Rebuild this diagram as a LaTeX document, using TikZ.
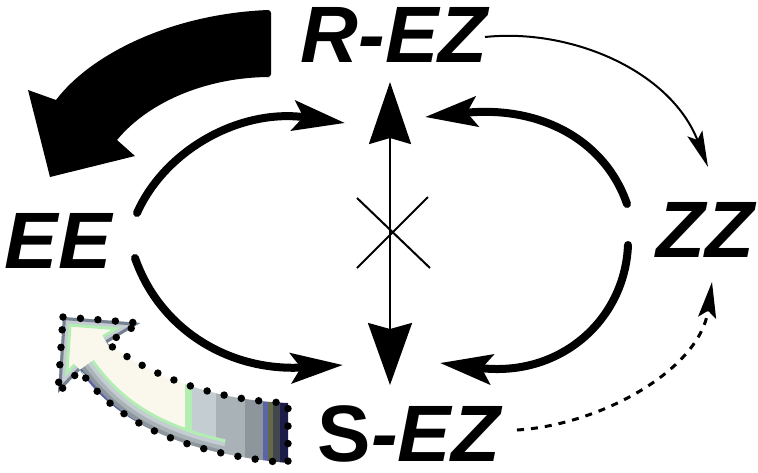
\documentclass[tikz,border=0pt]{standalone}
\usepackage{fontspec}
\setmainfont{Liberation Sans}
\usetikzlibrary{arrows.meta}
\definecolor{gcream}{RGB}{250,247,236}
\definecolor{ggreen}{RGB}{178,238,178}
\definecolor{gg1}{RGB}{196,206,210}
\definecolor{gg2}{RGB}{168,178,183}
\definecolor{gg3}{RGB}{140,150,156}
\definecolor{gblue}{RGB}{92,100,165}
\definecolor{golive}{RGB}{98,106,72}
\definecolor{gdark}{RGB}{66,70,78}
\definecolor{gnavy}{RGB}{28,28,72}
\definecolor{gedge}{RGB}{118,128,145}
\tikzset{
  lab/.style={font=\fontsize{80}{80}\selectfont\bfseries\itshape, inner sep=0pt, anchor=base, text depth=0pt},
  thick arc/.style={line width=8pt, line cap=round, -{Stealth[length=52pt, width=30pt, inset=10pt]}},
  thin arc/.style={line width=2pt, -{Stealth[length=36pt, width=16pt, inset=7pt]}},
  dash arc/.style={line width=3pt, dash pattern=on 7pt off 7pt, -{Stealth[length=36pt, width=18pt, inset=7pt]}},
  mid arrow/.style={line width=2.5pt, {Stealth[length=62pt, width=42pt, inset=6pt]}-{Stealth[length=62pt, width=44pt, inset=6pt]}},
  cross line/.style={line width=2pt},
  dotted rim/.style={line width=7.5pt, line cap=round, dash pattern=on 0pt off 17.5pt},
  band/.style={line join=miter, line cap=butt}
}
\begin{document}
\begin{tikzpicture}[x=1pt, y=-1pt]
\useasboundingbox (0,0) rectangle (758,472);

% labels
\node[lab] (REZ) at (394,62) {R-EZ};
\node[lab] (EE) at (58,268) {EE};
\node[lab] (ZZ) at (705,257) {ZZ};
\node[lab] (SEZ) at (409,461) {{\upshape S}-EZ};

% big black arrow
\fill[black] (270,77) .. controls (210,77) and (150,100) .. (117,140)
  -- (135,156) -- (50,177) -- (28,90) -- (56,100)
  .. controls (90,55) and (170,14) .. (268,10)
  [rounded corners=3pt] -- (271,10) -- (271,77) [sharp corners] -- cycle;

% gradient arrow
\def\gradpath{(63,317) -- (140,323) -- (107,343)
  .. controls (150,375) and (210,400) .. (288,403)
  -- (288,463)
  .. controls (200,455) and (120,430) .. (80,370)
  -- (58,393) -- cycle}
\def\headpath{(80,370) -- (58,393) -- (63,317) -- (140,323) -- (107,343)}
\def\lowpath{(80,370) .. controls (110,412) and (150,440) .. (222,456)}
\begin{scope}
  \clip \gradpath;
  \fill[gcream] (50,300) rectangle (185,470);
  \fill[ggreen] (185,300) rectangle (192,470);
  \fill[gg1] (192,300) rectangle (216,470);
  \fill[gg2] (216,300) rectangle (245,470);
  \fill[gg3] (245,300) rectangle (263,470);
  \fill[gblue] (263,300) rectangle (268,470);
  \fill[golive] (268,300) rectangle (273,470);
  \fill[gdark] (273,300) rectangle (280,470);
  \fill[gnavy] (280,300) rectangle (295,470);
  % bands along the lower edge
  \draw[band, ggreen, line width=34pt] \lowpath;
  \draw[band, gg1, line width=28pt] \lowpath;
  \draw[band, gg2, line width=20pt] \lowpath;
  \draw[band, gg3, line width=12pt] \lowpath;
  \draw[band, gblue, line width=4pt] \lowpath;
  % bands along the head
  \draw[band, ggreen, line width=18pt] \headpath;
  \draw[band, gg1, line width=12pt] \headpath;
  \draw[band, gedge, line width=6pt] \headpath;
\end{scope}
\draw[dotted rim] \gradpath;

% anchor coordinates for connectors
\coordinate (eeUp) at (137,213);
\coordinate (eeDn) at (135,258);
\coordinate (zzUp) at (627,204);
\coordinate (zzDn) at (628,245);
\coordinate (topL) at (345,123);
\coordinate (topR) at (425,117);
\coordinate (botL) at (343,365);
\coordinate (botR) at (440,363);
\coordinate (ct) at (390,82);
\coordinate (cb) at (390,385);
\coordinate (rezOut) at (485,37);
\coordinate (zzInTop) at (708,167);
\coordinate (sezOut) at (517,430);
\coordinate (zzInBot) at (712,282);

% thick curved arrows
\draw[thick arc] (eeUp) .. controls (165,150) and (240,108) .. (topL);
\draw[thick arc] (zzUp) .. controls (605,140) and (540,105) .. (topR);
\draw[thick arc] (eeDn) .. controls (160,330) and (230,372) .. (botL);
\draw[thick arc] (zzDn) .. controls (625,320) and (560,378) .. (botR);

% central double arrow
\draw[mid arrow] (ct) -- (cb);

% cross
\coordinate (x1) at (357,198);
\coordinate (x2) at (430,268);
\coordinate (x3) at (428,197);
\coordinate (x4) at (357,268);
\draw[cross line] (x1) -- (x2);
\draw[cross line] (x3) -- (x4);

% thin and dashed arrows
\draw[thin arc] (rezOut) .. controls (570,28) and (670,70) .. (zzInTop);
\draw[dash arc] (sezOut) .. controls (600,425) and (700,370) .. (zzInBot);
\end{tikzpicture}
\end{document}
